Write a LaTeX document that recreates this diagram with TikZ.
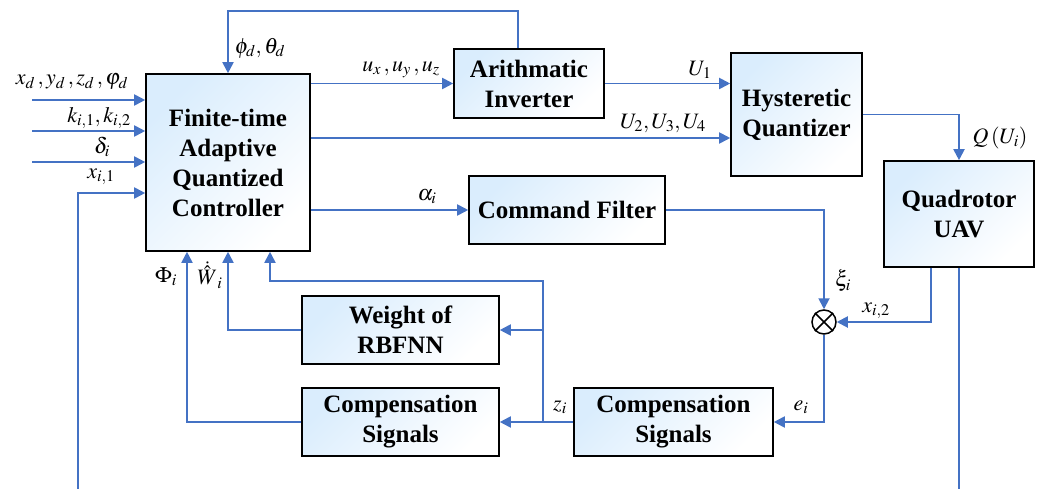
\documentclass[tikz,border=0pt]{standalone}
\usepackage{mathptmx}
\usepackage{fontspec}
\setmainfont{Liberation Serif}
\usetikzlibrary{arrows.meta,calc}
\definecolor{lineblue}{RGB}{68,114,196}
\definecolor{boxblue}{RGB}{218,237,253}
\tikzset{
  blk/.style={draw=black, line width=1.6pt, top color=boxblue, bottom color=white, shading angle=45,
    align=center, inner sep=0pt, font=\fontsize{25}{30}\selectfont\bfseries},
  arr/.style={draw=lineblue, line width=1.9pt, -{Triangle[length=11pt,width=11pt]}},
  ln/.style={draw=lineblue, line width=1.9pt},
  lbl/.style={inner sep=0pt, font=\fontsize{22}{26}\selectfont}
}
\begin{document}
\begin{tikzpicture}[x=1pt,y=-1pt]
\useasboundingbox (0,0) rectangle (1046,489);
% blocks
\node[blk, minimum width=164pt, minimum height=177pt] (ctl) at (228,162.5) {Finite-time\\Adaptive\\Quantized\\Controller};
\node[blk, minimum width=150pt, minimum height=69pt] (ai) at (529,83.5) {Arithmatic\\Inverter};
\node[blk, minimum width=131pt, minimum height=123pt] (hq) at (796.5,114.5) {Hysteretic\\Quantizer};
\node[blk, minimum width=150pt, minimum height=106pt] (quad) at (959,214) {Quadrotor\\UAV};
\node[blk, minimum width=196pt, minimum height=68pt] (cf) at (567,210) {Command Filter};
\node[blk, minimum width=197pt, minimum height=68pt] (wt) at (400.5,330) {Weight of\\RBFNN};
\node[blk, minimum width=197pt, minimum height=68pt] (cs1) at (400.5,422) {Compensation\\Signals};
\node[blk, minimum width=199pt, minimum height=68pt] (cs2) at (673.5,422) {Compensation\\Signals};
\node[circle, draw=black, line width=1.5pt, minimum size=24pt, inner sep=0pt, fill=white] (mul) at (824,322) {};
\draw[black, line width=1.5pt] (mul.north west) -- (mul.south east) (mul.north east) -- (mul.south west);
% coordinates
\coordinate (in1) at (32,100);
\coordinate (in2) at (32,131);
\coordinate (in3) at (32,162);
\coordinate (xb) at (78,489);
\coordinate (qb) at (959,489);
\coordinate (j1) at (543,422);
\coordinate (jtop) at (543,281);
% connectors
\draw[arr] ([xshift=-11pt]ai.north) |- ([yshift=62pt]ctl.north) -- (ctl.north);
\draw[arr] (ai.west -| ctl.east) -- (ai.west);
\draw[arr] (ai.east) -- (ai.east -| hq.west);
\draw[arr] ([yshift=24.5pt]ctl.east) -- ([yshift=24.5pt]ctl.east -| hq.west);
\draw[arr] (hq.east) -| (quad.north);
\draw[arr] (cf.west -| ctl.east) -- (cf.west);
\draw[arr] (cf.east) -| (mul.north);
\draw[arr] ([xshift=-28pt]quad.south) |- (mul.east);
\draw[ln] (quad.south) -- (qb);
\draw[arr] (mul.south) |- (cs2.east);
\draw[arr] (cs2.west) -- (cs1.east);
\draw[arr] (j1) -- (jtop) -| ([xshift=42pt]ctl.south);
\draw[arr] (j1 |- wt.east) -- (wt.east);
\draw[arr] (wt.west) -| (ctl.south);
\draw[arr] (cs1.west) -| ([xshift=-41pt]ctl.south);
\draw[arr] (in1) -- (in1 -| ctl.west);
\draw[arr] (in2) -- (in2 -| ctl.west);
\draw[arr] (in3) -- (in3 -| ctl.west);
\draw[arr] (xb) |- ([yshift=-30.5pt]ctl.west);
% labels
\node[lbl] (lphi) at (260,48) {$\phi_d,\theta_d$};
\node[lbl] (lxd) at (72,82) {$x_d\,, y_d\,, z_d\,, \varphi_d$};
\node[lbl] (lk) at (99,118) {$k_{i,1}, k_{i,2}$};
\node[lbl] (ld) at (102,147) {$\delta_i$};
\node[lbl] (lx1) at (101,177) {$x_{i,1}$};
\node[lbl] (lu) at (401,70) {$u_x\,, u_y\,, u_z$};
\node[lbl] (lU1) at (700,70) {$U_1$};
\node[lbl] (lU2) at (663,123) {$U_2,U_3,U_4$};
\node[lbl] (lQ) at (1000,138) {$Q\left(U_i\right)$};
\node[lbl] (la) at (427,197) {$\alpha_i$};
\node[lbl] (lxi) at (843,281) {$\xi_i$};
\node[lbl] (lx2) at (876,311) {$x_{i,2}$};
\node[lbl] (le) at (801,407) {$e_i$};
\node[lbl] (lz) at (560,407) {$z_i$};
\node[lbl] (lPhi) at (166,277) {$\Phi_i$};
\node[lbl] (lW) at (210,275) {$\dot{\hat{W}}_i$};
\end{tikzpicture}
\end{document}
